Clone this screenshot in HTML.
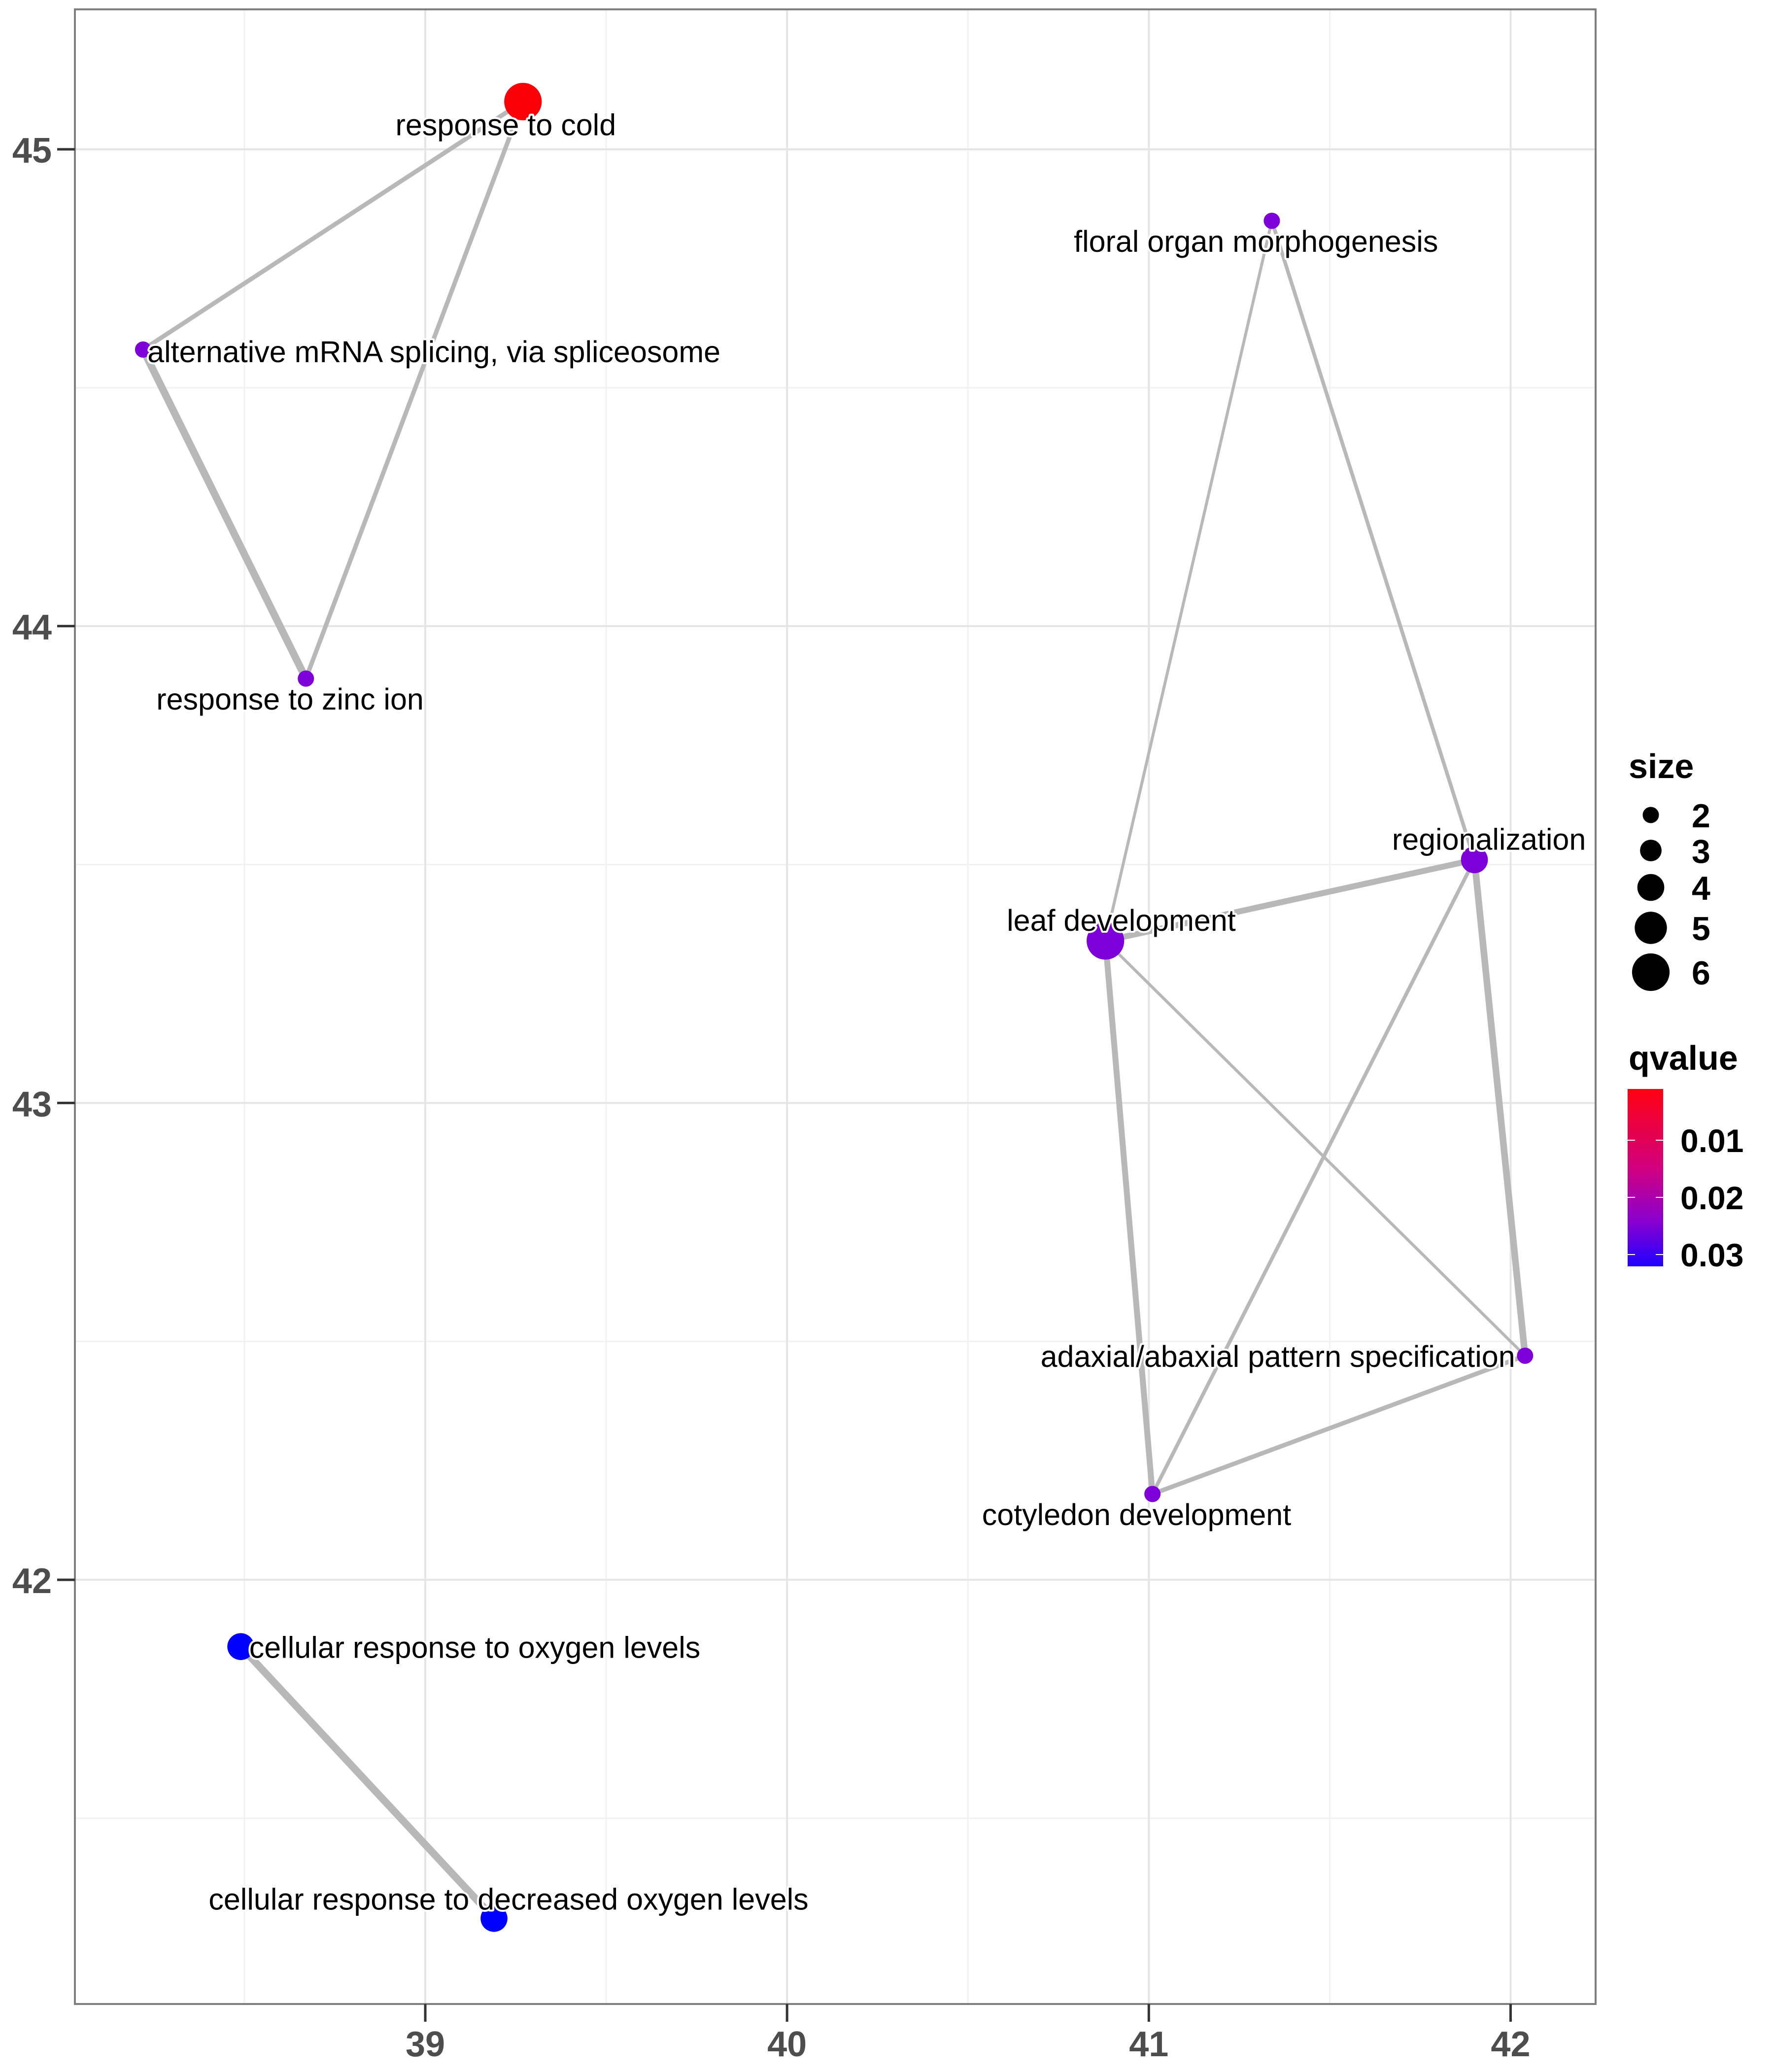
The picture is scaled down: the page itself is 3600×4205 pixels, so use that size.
<!DOCTYPE html>
<html><head><meta charset="utf-8"><style>
html,body{margin:0;padding:0;background:#fff}
svg text{font-family:"Liberation Sans",sans-serif}
</style></head><body>
<svg id="chart" width="3600" height="4200" viewBox="0 0 3600 4200" xmlns="http://www.w3.org/2000/svg">
<rect width="3600" height="4200" fill="#fff"/>
<g id="grid"></g>
<g id="edges"></g>
<g id="nodes"></g>
<g id="labels"></g>
<rect x="152" y="19" width="3086" height="4048" fill="none" stroke="#7f7f7f" stroke-width="4"/>
<g id="axes"></g>
<g id="legend">
<text x="3305" y="1579" font-size="70" font-weight="bold">size</text>
<text x="3305" y="2171" font-size="70" font-weight="bold">qvalue</text>
<defs><linearGradient id="qg" x1="0" y1="0" x2="0" y2="1">
<stop offset="0" stop-color="#ff0010"/><stop offset="0.45" stop-color="#d00080"/><stop offset="0.75" stop-color="#8800d0"/><stop offset="1" stop-color="#2000ff"/></linearGradient></defs>
<rect x="3303" y="2210" width="72" height="360" fill="url(#qg)"/>
</g>
</svg>
<script>
const xTicks = [39, 40, 41, 42];
const yTicks = [42, 43, 44, 45];
const nodeNames = ["response to cold","alternative mRNA splicing, via spliceosome","response to zinc ion","floral organ morphogenesis","regionalization","leaf development","adaxial/abaxial pattern specification","cotyledon development","cellular response to oxygen levels","cellular response to decreased oxygen levels"];
const nodeX = [39.27, 38.22, 38.67, 41.34, 41.90, 40.88, 42.04, 41.01, 38.49, 39.19];
const nodeY = [45.10, 44.58, 43.89, 44.85, 43.51, 43.34, 42.47, 42.18, 41.86, 41.29];
const nodeSize = [6, 2, 2, 2, 4, 6, 2, 2, 4, 4];
const nodeQ = [0.002, 0.027, 0.027, 0.027, 0.027, 0.027, 0.027, 0.027, 0.035, 0.035];
const edgeFrom = [0, 0, 1, 3, 3, 5, 5, 5, 4, 4, 7, 8];
const edgeTo =   [1, 2, 2, 5, 4, 4, 6, 7, 7, 6, 6, 9];
const edgeWeight = [3, 3, 5, 2, 2.5, 4, 2, 4, 2.5, 4.5, 3, 5];
const labelDx = [-13, 220, -12, -12, 11, 12, -187, -12, 177, 11];
const labelDy = [18, 2, 16, 16, -15, -15, 1, 16, 1, -14];
const sizeLegendVals = [2,3,4,5,6];
const qLegendVals = [0.01,0.02,0.03];

const X0=152,X1=3238,Y0=19,Y1=4067;
const xmin=38.0315, xmax=42.235, ymin=41.1105, ymax=45.2934;
const sx=v=>X0+(v-xmin)/(xmax-xmin)*(X1-X0);
const sy=v=>Y1-(v-ymin)/(ymax-ymin)*(Y1-Y0);
const rad=s=>16.5+(s-2)*5.4;
const stops=[[0,[255,0,0]],[0.45,[208,0,128]],[0.76,[128,0,216]],[1,[0,0,255]]];
const qcol=q=>{const t=Math.min(1,Math.max(0,(q-0.001)/0.034));
for(let i=1;i<stops.length;i++){if(t<=stops[i][0]){const a=stops[i-1],b=stops[i];const f=(t-a[0])/(b[0]-a[0]);
const c=a[1].map((v,k)=>Math.round(v+(b[1][k]-v)*f));return `rgb(${c[0]},${c[1]},${c[2]})`;}}return 'rgb(0,0,255)';};
const NS="http://www.w3.org/2000/svg";
function mk(tag,attrs,parent){const e=document.createElementNS(NS,tag);for(const k in attrs)e.setAttribute(k,attrs[k]);parent.appendChild(e);return e;}

const grid=document.getElementById('grid');
for(let v=38.5;v<=42.2;v+=1){const l=mk('line',{x1:sx(v),x2:sx(v),y1:Y0,y2:Y1,stroke:'#f2f2f2','stroke-width':3},grid);

}
for(let v=41.5;v<=45.3;v+=1){const l=mk('line',{x1:X0,x2:X1,y1:sy(v),y2:sy(v),stroke:'#f2f2f2','stroke-width':3},grid);

}
const axes=document.getElementById('axes');
xTicks.forEach(v=>{const l=mk('line',{x1:sx(v),x2:sx(v),y1:Y0,y2:Y1,stroke:'#e5e5e5','stroke-width':4},grid);


const t=mk('line',{x1:sx(v),x2:sx(v),y1:Y1,y2:Y1+36,stroke:'#333','stroke-width':5},axes);


const tx=mk('text',{x:sx(v),y:Y1+106,'font-size':72,'font-weight':'bold',fill:'#4d4d4d','text-anchor':'middle'},axes);
tx.textContent=v;

});
yTicks.forEach(v=>{const l=mk('line',{x1:X0,x2:X1,y1:sy(v),y2:sy(v),stroke:'#e5e5e5','stroke-width':4},grid);


const t=mk('line',{x1:X0-36,x2:X0,y1:sy(v),y2:sy(v),stroke:'#333','stroke-width':5},axes);


const tx=mk('text',{x:X0-47,y:sy(v)+27,'font-size':72,'font-weight':'bold',fill:'#4d4d4d','text-anchor':'end'},axes);
tx.textContent=v;

});

const eg=document.getElementById('edges');
edgeFrom.forEach((f,i)=>{const t=edgeTo[i];
const l=mk('line',{x1:sx(nodeX[f]),y1:sy(nodeY[f]),x2:sx(nodeX[t]),y2:sy(nodeY[t]),stroke:'#b8b8b8','stroke-width':edgeWeight[i]*3},eg);

});
const ng=document.getElementById('nodes'),lg=document.getElementById('labels');
nodeNames.forEach((n,i)=>{
const c=mk('circle',{cx:sx(nodeX[i]),cy:sy(nodeY[i]),r:rad(nodeSize[i]),fill:qcol(nodeQ[i])},ng);


const t=mk('text',{x:sx(nodeX[i])+labelDx[i]*2.683,y:sy(nodeY[i])+labelDy[i]*2.683+20,'font-size':61,'text-anchor':'middle',fill:'#000',stroke:'#fff','stroke-width':8,'paint-order':'stroke','stroke-linejoin':'round'},lg);
t.textContent=n;

});

const leg=document.getElementById('legend');
const sizeY=[1654,1726,1801,1883,1973];
sizeLegendVals.forEach((s,i)=>{
const c=mk('circle',{cx:3350,cy:sizeY[i],r:rad(s),fill:'#000'},leg);


const t=mk('text',{x:3433,y:sizeY[i]+25,'font-size':68,'font-weight':'bold'},leg);
t.textContent=s;

});
const qY=v=>2314+(v-0.01)*11600;
qLegendVals.forEach(q=>{const y=qY(q);
const a=mk('line',{x1:3303,x2:3318,y1:y,y2:y,stroke:'#fff','stroke-width':2},leg);


const b=mk('line',{x1:3360,x2:3375,y1:y,y2:y,stroke:'#fff','stroke-width':2},leg);


const t=mk('text',{x:3410,y:y+24,'font-size':66,'font-weight':'bold'},leg);
t.textContent=q.toFixed(2);

});
</script>
</body></html>
